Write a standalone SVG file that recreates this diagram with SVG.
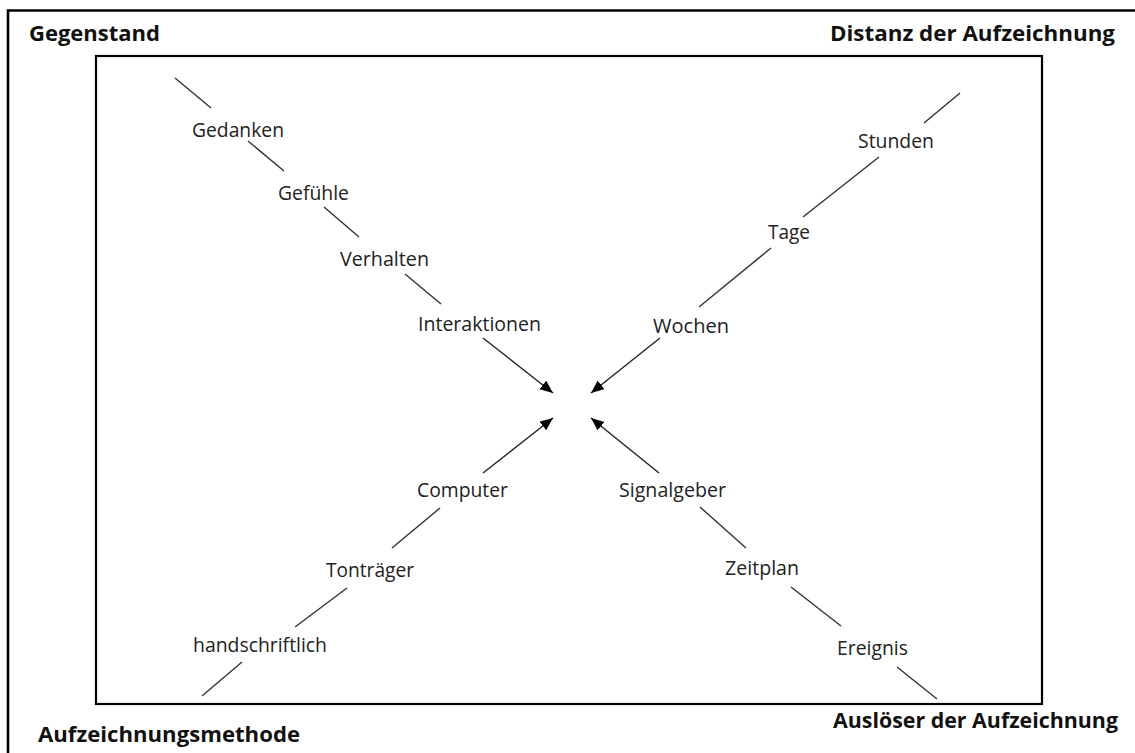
<svg xmlns="http://www.w3.org/2000/svg" width="1135" height="753" viewBox="0 0 1135 753">
<style>
.title{font-family:"Open Sans","Liberation Sans",sans-serif;font-weight:bold;font-size:21.5px;fill:#111}
.lbl{font-family:"Open Sans","Liberation Sans",sans-serif;font-size:19.5px;fill:#222}
.ln{stroke:#333;stroke-width:1.4;fill:none}
.ar{stroke:#222;stroke-width:1.4;fill:none;marker-end:url(#ah)}
</style>
<defs>
<marker id="ah" markerUnits="userSpaceOnUse" markerWidth="14" markerHeight="12" refX="13" refY="5.5" orient="auto">
<path d="M0,0 L13,5.5 L0,11 z" fill="#000"/>
</marker>
</defs>
<rect width="1135" height="753" fill="#fff"/>
<g id="frame">
<path d="M8,753 V10.5 H1135" stroke="#000" stroke-width="2.6" fill="none"/>
<rect x="96" y="56" width="946" height="648" stroke="#000" stroke-width="2.2" fill="none"/>
</g>
<g id="titles">
<text class="title" x="29" y="41" textLength="131" lengthAdjust="spacingAndGlyphs">Gegenstand</text>
<text class="title" x="830" y="41" textLength="285" lengthAdjust="spacingAndGlyphs">Distanz der Aufzeichnung</text>
<text class="title" x="38" y="742" textLength="262" lengthAdjust="spacingAndGlyphs">Aufzeichnungsmethode</text>
<text class="title" x="833" y="728" textLength="285" lengthAdjust="spacingAndGlyphs">Auslöser der Aufzeichnung</text>
</g>
<g id="connectors">
<line class="ln" x1="175" y1="78" x2="211" y2="108"/>
<line class="ln" x1="248" y1="141" x2="284" y2="171"/>
<line class="ln" x1="324" y1="207" x2="359" y2="237"/>
<line class="ln" x1="405" y1="274" x2="441" y2="304"/>
<line class="ar" x1="483" y1="338" x2="553" y2="393"/>
<line class="ln" x1="960" y1="93" x2="924" y2="123"/>
<line class="ln" x1="879" y1="157" x2="803" y2="217"/>
<line class="ln" x1="771" y1="248" x2="699" y2="307"/>
<line class="ar" x1="660" y1="338" x2="591" y2="393"/>
<line class="ln" x1="202" y1="696" x2="242" y2="662"/>
<line class="ln" x1="295" y1="627" x2="347" y2="588"/>
<line class="ln" x1="392" y1="548" x2="440" y2="508"/>
<line class="ar" x1="483" y1="473" x2="553" y2="418"/>
<line class="ln" x1="937" y1="699" x2="897" y2="667"/>
<line class="ln" x1="841" y1="626" x2="791" y2="587"/>
<line class="ln" x1="746" y1="548" x2="700" y2="507"/>
<line class="ar" x1="659" y1="473" x2="591" y2="418"/>
</g>
<g id="n-gedanken"><text class="lbl" x="192" y="137" textLength="92" lengthAdjust="spacingAndGlyphs">Gedanken</text></g>
<g id="n-gefuehle"><text class="lbl" x="278" y="200" textLength="71" lengthAdjust="spacingAndGlyphs">Gefühle</text></g>
<g id="n-verhalten"><text class="lbl" x="340" y="266" textLength="89" lengthAdjust="spacingAndGlyphs">Verhalten</text></g>
<g id="n-interaktionen"><text class="lbl" x="418" y="331" textLength="123" lengthAdjust="spacingAndGlyphs">Interaktionen</text></g>
<g id="n-stunden"><text class="lbl" x="858" y="148" textLength="76" lengthAdjust="spacingAndGlyphs">Stunden</text></g>
<g id="n-tage"><text class="lbl" x="768" y="239" textLength="42" lengthAdjust="spacingAndGlyphs">Tage</text></g>
<g id="n-wochen"><text class="lbl" x="653" y="333" textLength="76" lengthAdjust="spacingAndGlyphs">Wochen</text></g>
<g id="n-computer"><text class="lbl" x="417" y="497" textLength="91" lengthAdjust="spacingAndGlyphs">Computer</text></g>
<g id="n-tontraeger"><text class="lbl" x="326" y="577" textLength="88" lengthAdjust="spacingAndGlyphs">Tonträger</text></g>
<g id="n-handschriftlich"><text class="lbl" x="193" y="652" textLength="134" lengthAdjust="spacingAndGlyphs">handschriftlich</text></g>
<g id="n-signalgeber"><text class="lbl" x="619" y="497" textLength="107" lengthAdjust="spacingAndGlyphs">Signalgeber</text></g>
<g id="n-zeitplan"><text class="lbl" x="725" y="575" textLength="74" lengthAdjust="spacingAndGlyphs">Zeitplan</text></g>
<g id="n-ereignis"><text class="lbl" x="837" y="655" textLength="71" lengthAdjust="spacingAndGlyphs">Ereignis</text></g>
</svg>
